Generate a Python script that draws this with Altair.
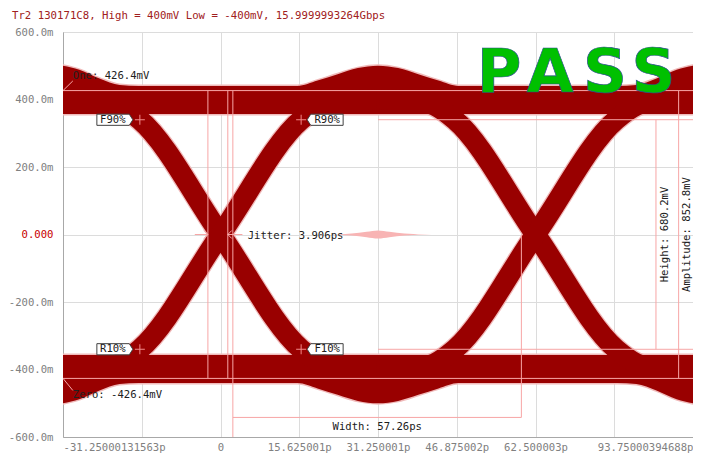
import altair as alt
import pandas as pd

FONT = "DejaVu Sans Mono"
DARK = "#990000"
HALO = "#f0baba"
PINK = "#f7a6a6"
GRID = "#dcdcdc"

title_text = "Tr2 130171C8, High = 400mV Low = -400mV, 15.9999993264Gbps"

# ---- axes (time in ps, voltage in mV) ----
x_domain = [-31.25, 93.75]
y_domain = [-600, 600]
x_tick_values = [-31.25, -15.625, 0, 15.625, 31.25, 46.875, 62.5, 78.125, 93.75]
x_tick_labels = ["-31.25000131563p", "", "0", "15.625001p", "31.250001p",
                 "46.875002p", "62.500003p", "", "93.75000394688p"]
y_tick_values = [-600, -400, -200, 0, 200, 400, 600]
y_tick_labels = ["-600.0m", "-400.0m", "-200.0m", "0.000", "200.0m", "400.0m", "600.0m"]

# ---- rail envelopes ----
rail_t = [-31.25, -28, -24, -20, -16.25, 15.25, 19.25, 23.25, 27.25, 31.25, 35.25, 39.25,
          43.25, 47.25, 78.75, 82.5, 86.5, 90.5, 93.75]
one_upper = [500, 488, 462, 443, 440, 440, 456, 475, 493, 500, 493, 475,
             456, 440, 440, 443, 462, 488, 500]
one_lower = [357, 357, 357, 357, 357, 357, 357, 357, 357, 357, 357, 357,
             357, 357, 357, 357, 357, 357, 357]
zero_upper = [-357, -357, -357, -357, -357, -357, -357, -357, -357, -357, -357, -357,
              -357, -357, -357, -357, -357, -357, -357]
zero_lower = [-500, -488, -462, -443, -440, -440, -456, -475, -493, -500, -493, -475,
              -456, -440, -440, -443, -462, -488, -500]

# ---- transition traces (centre lines) ----
edge1_t = [-31, -24, -20, -16, 0, 16, 20, 24, 31]
edge2_t = [31.5, 38.5, 42.5, 46.5, 62.5, 78.5, 82.5, 86.5, 93.5]
fall_v = [400, 397, 382, 340, 0, -340, -382, -397, -400]
rise_v = [-400, -397, -382, -340, 0, 340, 382, 397, 400]

# ---- jitter histogram ----
jit_t = [22.2, 26, 29, 31.25, 33.5, 36.5, 41.9]
jit_hi = [0, 3, 8, 12, 8, 3, 0]
jit_lo = [0, -3, -8, -12, -8, -3, 0]

# ---- measurement lines (t1, v1, t2, v2) ----
seg_t1 = [-31.25, -31.25, 31.25, 31.25, 2.45, -2.5, 1.45, 2.45, 59.7, 86.4, 90.9, -31.25, -31.25, -5.1, 1.45]
seg_v1 = [426.4, -426.4, 340.1, -340.1, -542, 426.4, 426.4, 426.4, 0, 340.1, 426.4, 426.4, -426.4, 0, 0]
seg_t2 = [93.75, 93.75, 93.75, 93.75, 59.7, -2.5, 1.45, 2.45, 59.7, 86.4, 90.9, -29.3, -29.3, -2.5, 4.35]
seg_v2 = [426.4, -426.4, 340.1, -340.1, -542, -426.4, -426.4, -600, -542, -340.1, -426.4, 455, -462, 0, 0]

# ---- tags ----
ltag_names = ["F90%", "R10%"]
ltag_t = [-16, -16]
ltag_v = [340, -340]
rtag_names = ["R90%", "F10%"]
rtag_t = [16, 16]
rtag_v = [340, -340]

# ---- annotation texts ----
ann_left_text = ["One: 426.4mV", "Zero: -426.4mV", "Jitter: 3.906ps"]
ann_left_t = [-29.3, -29.3, 5.4]
ann_left_v = [471, -477, -5]
width_text = ["Width: 57.26ps"]
width_t = [31.1]
width_v = [-569]
vert_text = ["Height: 680.2mV", "Amplitude: 852.8mV"]
vert_t = [88.2, 92.6]
vert_v = [0, 0]
pass_letters = ["P", "A", "S", "S"]
pass_t = [55.3, 65.4, 76.3, 85.9]
pass_v = [421, 421, 421, 421]


def label_expr(values, labels):
    parts = [f"datum.value == {v} ? '{l}'" for v, l in zip(values, labels)]
    return " : ".join(parts) + " : ''"


xs = alt.Scale(domain=x_domain, nice=False, zero=False)
ys = alt.Scale(domain=y_domain, nice=False, zero=False)

x_axis = alt.Axis(values=x_tick_values, labelExpr=label_expr(x_tick_values, x_tick_labels),
                  title=None, ticks=False, grid=True, gridColor=GRID, gridWidth=1,
                  domainColor="#a8a8a8", labelFont=FONT, labelFontSize=10.6,
                  labelColor="#808080", labelFlush=True, labelOverlap=False, labelPadding=5)
y_axis = alt.Axis(values=y_tick_values, labelExpr=label_expr(y_tick_values, y_tick_labels),
                  title=None, ticks=False, grid=True, gridColor=GRID, gridWidth=1,
                  domainColor="#a8a8a8", labelFont=FONT, labelFontSize=10.6,
                  labelColor={"condition": {"test": "datum.value == 0", "value": "#c80000"},
                              "value": "#808080"},
                  labelPadding=10, labelOverlap=False)

n = len(rail_t)
rails_df = pd.DataFrame({
    "t": rail_t + rail_t,
    "upper": one_upper + zero_upper,
    "lower": one_lower + zero_lower,
    "rail": ["one"] * n + ["zero"] * n,
})

edges_df = pd.concat([
    pd.DataFrame({"t": edge1_t, "v": fall_v, "trace": "fall1"}),
    pd.DataFrame({"t": edge1_t, "v": rise_v, "trace": "rise1"}),
    pd.DataFrame({"t": edge2_t, "v": fall_v, "trace": "fall2"}),
    pd.DataFrame({"t": edge2_t, "v": rise_v, "trace": "rise2"}),
], ignore_index=True)

jit_df = pd.DataFrame({"t": jit_t, "hi": jit_hi, "lo": jit_lo})
seg_df = pd.DataFrame({"t": seg_t1, "v": seg_v1, "t2": seg_t2, "v2": seg_v2})
ltag_df = pd.DataFrame({"t": ltag_t, "v": ltag_v, "name": ltag_names})
rtag_df = pd.DataFrame({"t": rtag_t, "v": rtag_v, "name": rtag_names})
cross_df = pd.concat([ltag_df, rtag_df], ignore_index=True)
annl_df = pd.DataFrame({"t": ann_left_t, "v": ann_left_v, "txt": ann_left_text})
width_df = pd.DataFrame({"t": width_t, "v": width_v, "txt": width_text})
vert_df = pd.DataFrame({"t": vert_t, "v": vert_v, "txt": vert_text})
pass_df = pd.DataFrame({"t": pass_t, "v": pass_v, "txt": pass_letters})
chev_df = pd.DataFrame({"t": [-2.5], "v": [0]})
chev2_df = pd.DataFrame({"t": [1.45], "v": [0]})


def X(f):
    return alt.X(f, type="quantitative", scale=xs, axis=x_axis)


def Y(f):
    return alt.Y(f, type="quantitative", scale=ys, axis=y_axis)


rails_halo = alt.Chart(rails_df).mark_area(
    color=HALO, stroke=HALO, strokeWidth=3, interpolate="monotone", clip=True
).encode(x=X("t"), y=Y("upper"), y2="lower:Q", detail="rail:N")
edges_halo = alt.Chart(edges_df).mark_line(
    color=HALO, strokeWidth=23, interpolate="monotone", clip=True, strokeCap="butt"
).encode(x=X("t"), y=Y("v"), detail="trace:N")

rails_dark = alt.Chart(rails_df).mark_area(
    color=DARK, interpolate="monotone", clip=True
).encode(x=X("t"), y=Y("upper"), y2="lower:Q", detail="rail:N")
edges_dark = alt.Chart(edges_df).mark_line(
    color=DARK, strokeWidth=20.5, interpolate="monotone", clip=True, strokeCap="butt"
).encode(x=X("t"), y=Y("v"), detail="trace:N")

jitter = alt.Chart(jit_df).mark_area(color="#f8b4b4", interpolate="monotone").encode(
    x=X("t"), y=Y("hi"), y2="lo:Q")

segs = alt.Chart(seg_df).mark_rule(color=PINK, strokeWidth=1, clip=True).encode(
    x=X("t"), x2="t2:Q", y=Y("v"), y2="v2:Q")

chev_r = alt.Chart(chev_df).mark_point(
    shape="M-1,-1L0,0L-1,1", size=64, filled=False, color=PINK, strokeWidth=1, opacity=1
).encode(x=X("t"), y=Y("v"))
chev_l = alt.Chart(chev2_df).mark_point(
    shape="M1,-1L0,0L1,1", size=64, filled=False, color=PINK, strokeWidth=1, opacity=1
).encode(x=X("t"), y=Y("v"))

crosses = alt.Chart(cross_df).mark_point(
    shape="M-1,0L1,0M0,-1L0,1", size=100, filled=False, color="#f28a8a", strokeWidth=1, opacity=1
).encode(x=X("t"), y=Y("v"))

ltag_box = alt.Chart(ltag_df).mark_point(
    shape="M-1,-0.31L0.8,-0.31L1,0L0.8,0.31L-1,0.31Z", size=1296, filled=True,
    fill="white", stroke="#404040", strokeWidth=1, opacity=1, xOffset=-25
).encode(x=X("t"), y=Y("v"))
ltag_txt = alt.Chart(ltag_df).mark_text(
    font=FONT, fontSize=10.6, color="#202020", align="center", baseline="middle", dx=-27
).encode(x=X("t"), y=Y("v"), text="name:N")
rtag_box = alt.Chart(rtag_df).mark_point(
    shape="M1,-0.31L-0.8,-0.31L-1,0L-0.8,0.31L1,0.31Z", size=1296, filled=True,
    fill="white", stroke="#404040", strokeWidth=1, opacity=1, xOffset=24
).encode(x=X("t"), y=Y("v"))
rtag_txt = alt.Chart(rtag_df).mark_text(
    font=FONT, fontSize=10.6, color="#202020", align="center", baseline="middle", dx=26
).encode(x=X("t"), y=Y("v"), text="name:N")

annl = alt.Chart(annl_df).mark_text(
    font=FONT, fontSize=10.6, color="#202020", align="left", baseline="middle"
).encode(x=X("t"), y=Y("v"), text="txt:N")
widthl = alt.Chart(width_df).mark_text(
    font=FONT, fontSize=10.6, color="#202020", align="center", baseline="middle"
).encode(x=X("t"), y=Y("v"), text="txt:N")
vertl = alt.Chart(vert_df).mark_text(
    font=FONT, fontSize=10.6, color="#202020", align="center", baseline="middle", angle=270
).encode(x=X("t"), y=Y("v"), text="txt:N")
passl = alt.Chart(pass_df).mark_text(
    font="DejaVu Sans", fontWeight="bold", fontSize=61, color="#00c000",
    stroke="#2d4f8f", strokeWidth=0.7, align="center", baseline="alphabetic"
).encode(x=X("t"), y=Y("v"), text="txt:N")

chart = alt.layer(
    rails_halo, edges_halo, rails_dark, edges_dark, jitter, segs, chev_r, chev_l,
    crosses, ltag_box, ltag_txt, rtag_box, rtag_txt, annl, widthl, vertl, passl
).properties(
    width=630, height=405,
    title=alt.TitleParams(text=title_text, anchor="start", font=FONT, fontSize=10.7,
                          fontWeight="normal", color="#a02020", dx=-51, offset=5,
                          frame="group"),
    padding={"left": 55, "top": 24, "right": 0, "bottom": 17},
    autosize=alt.AutoSizeParams(type="none"),
).configure_view(stroke="#b0b0b0", strokeWidth=1)

chart.save("out.html", embed_options={"renderer": "svg", "actions": False})
